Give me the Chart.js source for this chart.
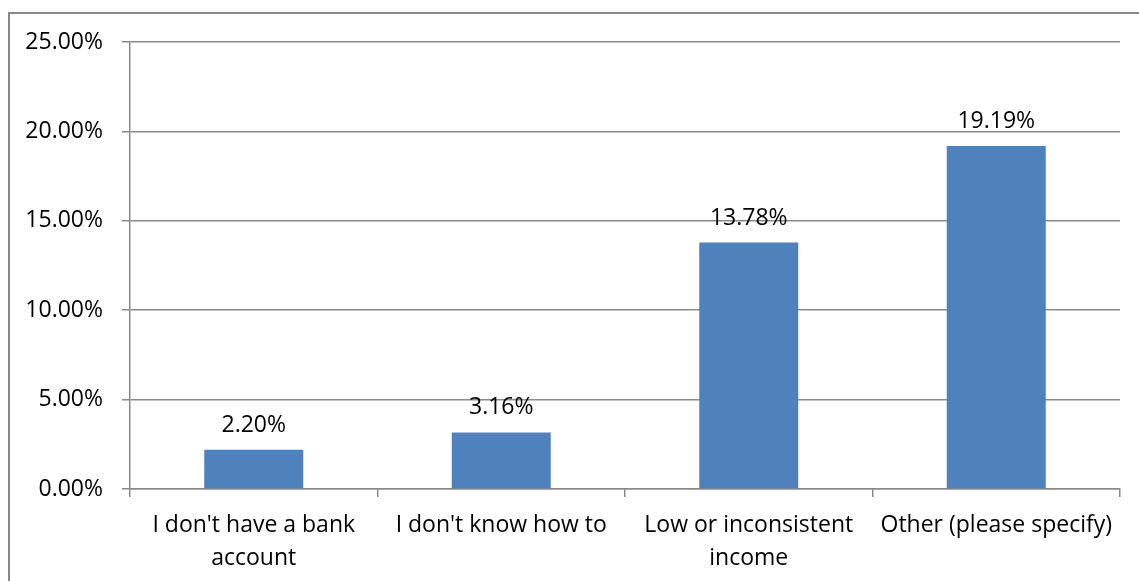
<!DOCTYPE html>
<html>
<head>
<meta charset="utf-8">
<script src="https://cdn.jsdelivr.net/npm/chart.js@4"></script>
<style>
  html, body { margin: 0; padding: 0; background: #fff; }
  #wrap { width: 1139px; height: 581px; position: relative; }
</style>
</head>
<body>
<div id="wrap"><canvas id="grafico"></canvas></div>
<script>
// categorias e valores (%)
const categorias = [
    ["I don't have a bank", "account"],
    ["I don't know how to"],
    ["Low or inconsistent", "income"],
    ["Other (please specify)"]
];
const valores = [2.20, 3.16, 13.78, 19.19];
const ticksY = [0, 5, 10, 15, 20, 25];

const corLinha = '#898989';
const fonte = "'Open Sans', sans-serif";

// moldura cinza em volta do gráfico
const moldura = {
    id: 'moldura',
    beforeDraw(chart) {
        const c = chart.ctx;
        c.save();
        c.strokeStyle = corLinha;
        c.lineWidth = 2;
        c.strokeRect(9, 13, chart.width + 20, chart.height + 20);
        c.restore();
    }
};

// rótulos de valor acima das barras
const rotulos = {
    id: 'rotulos',
    afterDatasetsDraw(chart) {
        const c = chart.ctx;
        const meta = chart.getDatasetMeta(0);
        c.save();
        c.fillStyle = '#000';
        c.font = '23px ' + fonte;
        c.textAlign = 'center';
        c.textBaseline = 'alphabetic';
        meta.data.forEach((bar, i) => {
            c.fillText(valores[i].toFixed(2) + '%', bar.x, bar.y - 18);
        });
        c.restore();
    }
};

new Chart(document.getElementById('grafico'), {
    type: 'bar',
    data: {
        labels: categorias,
        datasets: [{
            data: valores,
            backgroundColor: '#4F81BD',
            borderWidth: 0,
            categoryPercentage: 1,
            barPercentage: 0.4
        }]
    },
    options: {
        responsive: true,
        maintainAspectRatio: false,
        animation: false,
        layout: { padding: { top: 42, right: 19, left: 0, bottom: 0 } },
        plugins: { legend: { display: false }, tooltip: { enabled: false } },
        scales: {
            x: {
                grid: { drawOnChartArea: false, tickLength: 8, color: corLinha, lineWidth: 1.5, offset: true },
                border: { color: corLinha, width: 1.5 },
                ticks: { color: '#000', font: { family: fonte, size: 23, lineHeight: 1.43 }, padding: 12, maxRotation: 0, autoSkip: false },
                afterFit(scale) { scale.height = 92; }
            },
            y: {
                min: 0,
                max: 25,
                afterBuildTicks(scale) { scale.ticks = ticksY.map(v => ({ value: v })); },
                grid: { color: corLinha, lineWidth: 1.5, tickLength: 8 },
                border: { color: corLinha, width: 1.5 },
                ticks: {
                    color: '#000',
                    font: { family: fonte, size: 23 },
                    padding: 19,
                    callback: v => v.toFixed(2) + '%'
                },
                afterFit(scale) { scale.width = 130; }
            }
        }
    },
    plugins: [moldura, rotulos]
});
</script>
</body>
</html>
